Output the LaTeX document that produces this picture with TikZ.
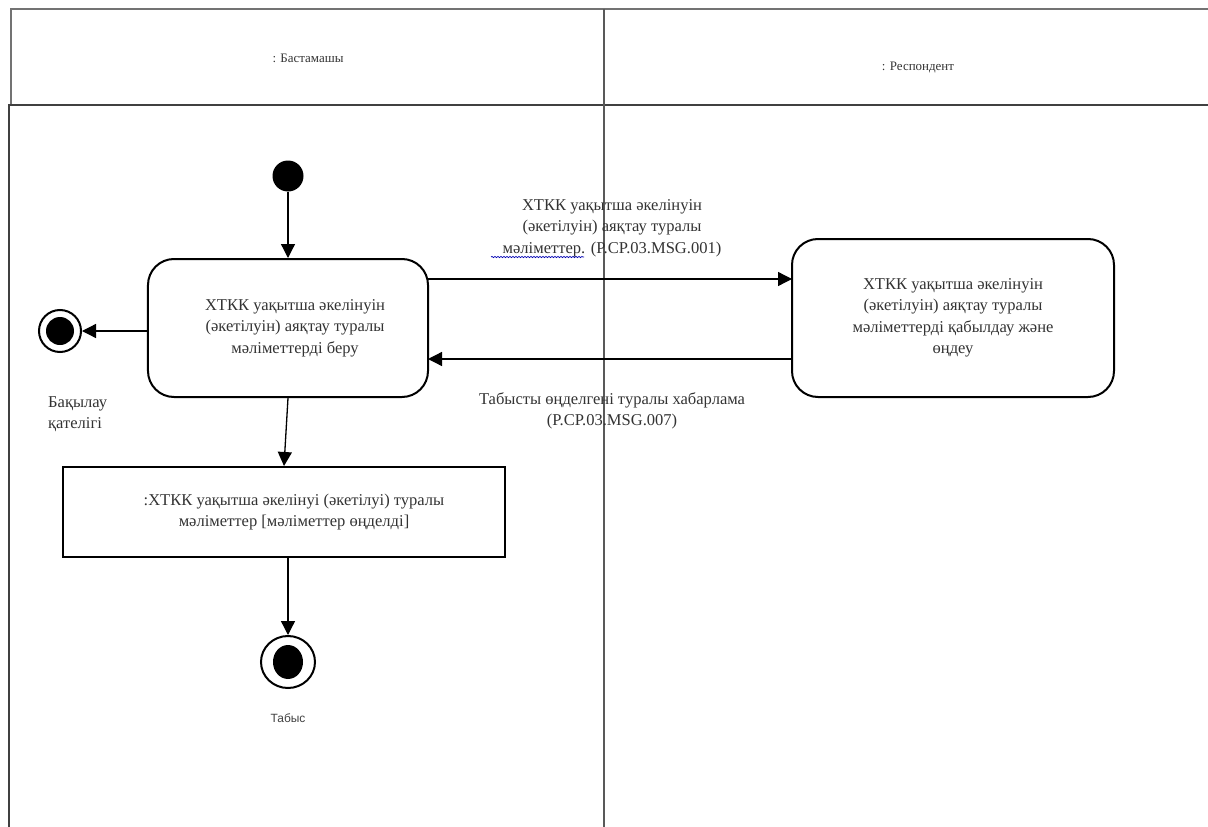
\documentclass[tikz,border=0pt]{standalone}
\usepackage{fontspec}
\setmainfont{Liberation Serif}
\newfontfamily\labelsans{Liberation Sans}
\usetikzlibrary{arrows.meta,decorations.pathmorphing,shapes.geometric}
\begin{document}
\begin{tikzpicture}[x=1bp,y=-1bp,
  txt/.style={text=black!80, font=\fontsize{16.6}{21.5}\selectfont, align=center, inner sep=0},
  state/.style={draw, line width=2bp, rounded corners=26bp, txt},
  objbox/.style={draw, line width=2bp, txt},
  flow/.style={line width=1.3bp, -{Triangle[length=14bp,width=14bp]}},
  lane/.style={line width=1.2bp, draw=black!75},
  hdr/.style={text=black!80, font=\fontsize{13}{16}\selectfont, inner sep=0}
]
\useasboundingbox (0,0) rectangle (1208,827);
% swimlane frame
\draw[lane, draw=black!55] (10,9) -- (1208,9);
\draw[lane, draw=black!55] (11,9) -- (11,105);
\draw[lane, line width=2.2bp] (8,105) -- (1208,105);
\draw[lane] (9,105) -- (9,827);
\draw[lane, draw=black!65] (604,9) -- (604,827);
\node[hdr] (h1) at (308,58) {: Бастамашы};
\node[hdr] (h2) at (918,68) {: Респондент};
% initial state
\node[circle, fill=black, minimum size=31bp, inner sep=0] (init) at (288,176) {};
% states
\node[state, minimum width=280bp, minimum height=138bp] (s1) at (288,328)
  {\hspace*{14bp}ХТКК уақытша әкелінуін\\\hspace*{14bp}(әкетілуін) аяқтау туралы\\\hspace*{14bp}мәліметтерді беру};
\node[state, minimum width=322bp, minimum height=158bp] (s2) at (953,318)
  {ХТКК уақытша әкелінуін\\(әкетілуін) аяқтау туралы\\мәліметтерді қабылдау және\\өңдеу};
\node[objbox, minimum width=441bp, minimum height=90bp] (o1) at (284,512)
  {\hspace*{20bp}:ХТКК уақытша әкелінуі (әкетілуі) туралы\\\hspace*{20bp}мәліметтер [мәліметтер өңделді]};
% final states
\node[circle, draw, line width=2bp, minimum size=42bp, inner sep=0] (fErr) at (60,331) {};
\node[circle, fill=black, minimum size=28bp, inner sep=0] (fErrIn) at (fErr.center) {};
\node[ellipse, draw, line width=2bp, minimum width=54bp, minimum height=52bp, inner sep=0] (fOk) at (288,662) {};
\node[ellipse, fill=black, minimum width=30bp, minimum height=34bp, inner sep=0] (fOkIn) at (fOk.center) {};
% labels
\node[txt, align=left, anchor=north west] (lErr) at (48,396) {Бақылау\\қателігі};
\node[text=black!75, font=\labelsans\fontsize{12}{14}\selectfont, inner sep=0] (lOk) at (288,718) {Табыс};
% connectors
\coordinate (s1r1) at (428,279);
\coordinate (s2l1) at (792,279);
\coordinate (s2l2) at (792,359);
\coordinate (s1r2) at (428,359);
\coordinate (o1b) at (288,557);
\draw[flow] (init) -- (s1);
\draw[flow] (s1r1) -- (s2l1);
\draw[flow] (s2l2) -- (s1r2);
\draw[flow] (s1.west |- fErr) -- (fErr);
\draw[flow] (s1.south) -- (o1.north);
\draw[flow] (o1b) -- (fOk);
% message labels
\node[txt] (m1) at (612,228)
  {ХТКК уақытша әкелінуін\\(әкетілуін) аяқтау туралы\\мәліметтер. (P.CP.03.MSG.001)};
\draw[blue!70!black, line width=0.7bp, decorate, decoration={snake, amplitude=0.6bp, segment length=3bp}]
  (491,257) -- (584,257);
\node[txt] (m2) at (612,411)
  {Табысты өңделгені туралы хабарлама\\(P.CP.03.MSG.007)};
\end{tikzpicture}
\end{document}
